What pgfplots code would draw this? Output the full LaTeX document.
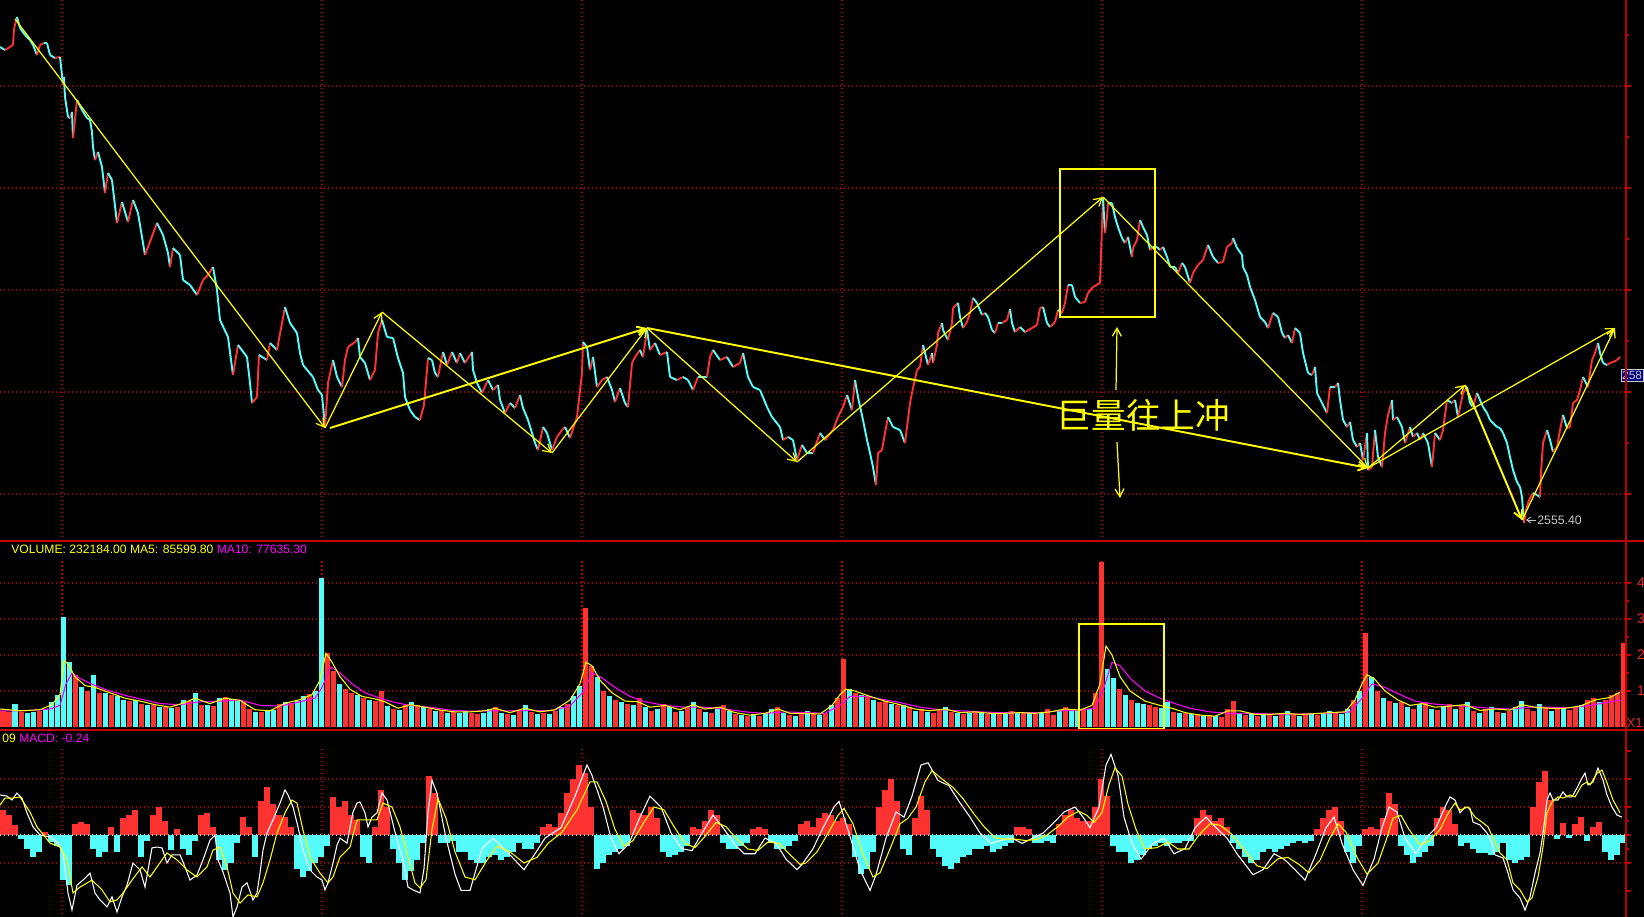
\documentclass[border=0pt]{standalone}
\usepackage{fontspec}
\setmainfont{Liberation Sans}
\newfontfamily\cjk{Noto Sans CJK SC}
\usepackage{pgfplots}
\pgfplotsset{compat=1.18}
\usepackage{pgfplotstable}
\usetikzlibrary{arrows.meta}

\definecolor{upred}{RGB}{255,50,50}
\definecolor{dncyan}{RGB}{84,252,252}
\definecolor{gridred}{RGB}{175,0,0}
\definecolor{axisred}{RGB}{190,0,0}
\definecolor{lblred}{RGB}{235,40,40}
\definecolor{ylw}{RGB}{255,255,0}
\definecolor{mag}{RGB}{255,0,255}
\definecolor{lgray}{RGB}{200,200,200}
\definecolor{boxblue}{RGB}{0,0,128}

\tikzset{gridline/.style={gridred, line width=0.03cm, dash pattern=on 0.025cm off 0.055cm},
  zz/.style={ylw, line width=0.7pt, -{Straight Barb[length=0.16cm,width=0.18cm]}},
  zzt/.style={zz, line width=1.1pt}}
\pgfplotsset{colormap={updown}{rgb255=(84,252,252) rgb255=(255,50,50)}}
\pgfplotsset{panel/.style={scale only axis, width=32.52cm, xmin=0, xmax=1626,
  enlargelimits=false, anchor=south west, axis line style={draw=none},
  xtick=\empty, ytick pos=right, yticklabel pos=right, tick align=outside,
  major tick length=0.1cm, minor tick length=0.05cm,
  tick style={axisred, line width=0.7pt}, yticklabels={}}}

% price: x = bar position, p = close, u = 1 when the next move is up
\pgfplotstableread{
x p u
0 2650.6 0
5 2650.0 1
10 2650.6 1
13 2651.0 1
14 2654.2 1
17 2656.6 0
20 2654.4 0
25 2653.0 0
30 2652.0 0
33 2651.0 0
37 2649.0 1
40 2651.0 1
44 2651.4 0
47 2651.4 0
50 2649.0 0
55 2648.4 1
60 2648.6 0
63 2643.0 1
64 2644.6 0
65 2640.6 0
68 2636.6 0
70 2636.4 1
72 2637.6 0
73 2632.4 1
77 2640.0 0
82 2638.0 0
87 2636.4 0
90 2636.0 0
92 2633.6 0
93 2630.6 0
95 2628.0 1
98 2629.6 0
102 2626.6 0
105 2621.4 1
108 2625.4 0
112 2624.0 0
117 2615.4 1
122 2619.6 0
128 2615.6 1
133 2620.0 0
138 2617.4 0
145 2609.0 1
148 2610.6 1
157 2615.4 0
163 2613.0 0
168 2609.4 0
170 2606.6 1
173 2610.4 0
180 2609.0 0
183 2604.0 0
190 2603.0 0
197 2601.0 1
203 2604.0 1
208 2605.0 1
213 2606.6 0
217 2602.0 0
220 2596.0 0
228 2592.6 0
233 2585.0 1
238 2591.0 0
247 2588.6 0
250 2583.4 0
252 2579.4 1
257 2580.6 1
259 2589.0 0
267 2588.0 1
270 2591.4 0
277 2590.0 1
285 2598.6 0
290 2595.4 0
297 2593.4 0
300 2589.4 0
303 2587.0 0
313 2584.6 0
318 2582.0 0
322 2581.0 0
325 2574.6 1
328 2583.4 1
333 2588.0 0
337 2584.6 0
342 2582.6 1
345 2588.0 1
348 2590.6 1
355 2591.6 1
358 2592.4 0
360 2588.6 0
365 2587.4 0
370 2584.0 1
375 2586.0 1
378 2593.4 1
382 2596.0 0
387 2592.6 0
393 2592.4 0
398 2588.4 0
403 2585.4 0
405 2580.6 0
410 2578.0 0
415 2576.6 0
420 2576.0 1
424 2579.0 1
428 2588.4 0
432 2588.0 0
435 2585.4 0
438 2584.6 1
443 2589.6 0
447 2587.0 1
452 2589.6 0
457 2587.4 1
460 2589.4 0
465 2587.4 1
472 2589.6 0
473 2586.0 0
477 2583.4 0
482 2581.4 1
488 2584.0 0
493 2582.0 1
498 2583.0 0
500 2580.0 0
505 2577.4 1
510 2579.4 0
515 2578.4 1
520 2581.0 0
523 2578.4 0
528 2576.0 0
532 2573.4 0
535 2571.4 0
538 2570.0 1
543 2574.6 0
547 2573.4 0
552 2570.0 1
557 2572.6 1
562 2574.0 1
565 2574.6 0
570 2572.4 1
577 2576.6 1
582 2585.4 1
583 2591.6 0
587 2590.6 0
590 2586.0 1
593 2588.6 0
597 2582.6 1
602 2584.0 1
607 2584.6 0
612 2582.0 0
615 2579.6 1
620 2582.4 0
625 2579.4 0
628 2578.6 1
632 2587.4 1
635 2588.6 1
640 2590.0 0
643 2588.6 1
647 2594.0 0
650 2590.0 1
655 2591.4 0
660 2589.0 1
667 2589.6 0
670 2584.6 0
677 2584.0 1
683 2584.6 0
688 2584.0 0
693 2582.0 1
698 2584.6 0
707 2584.6 1
710 2588.6 1
713 2590.0 0
720 2588.0 1
727 2588.6 0
733 2586.6 1
740 2587.4 1
743 2589.4 0
748 2584.6 0
753 2582.6 0
760 2582.0 0
767 2578.6 0
772 2576.6 0
780 2574.6 0
783 2572.0 1
788 2572.6 0
793 2572.0 0
797 2568.0 1
802 2571.0 0
807 2569.4 0
813 2569.4 1
820 2573.4 0
825 2572.0 1
833 2574.0 1
838 2576.6 1
843 2578.6 1
847 2581.0 0
852 2578.0 1
855 2584.0 0
858 2580.6 0
863 2576.0 0
867 2572.0 0
870 2569.4 0
873 2566.6 0
876 2563.0 1
878 2569.4 1
882 2570.0 1
885 2573.4 1
888 2576.6 0
893 2574.6 0
900 2574.0 0
905 2571.4 1
907 2574.6 1
910 2579.4 1
913 2582.4 1
917 2586.0 1
920 2586.6 1
923 2591.0 0
925 2589.4 0
928 2587.0 1
932 2589.4 0
933 2587.4 1
937 2591.0 1
938 2593.4 1
942 2595.4 0
943 2594.0 0
948 2592.0 1
952 2595.4 1
953 2598.4 1
958 2599.4 0
960 2596.6 0
963 2594.4 1
967 2595.6 1
970 2597.4 1
973 2600.4 0
977 2599.4 0
982 2597.0 1
985 2597.4 0
988 2596.6 0
992 2594.0 0
995 2593.4 1
998 2595.4 0
1002 2595.4 1
1007 2596.0 1
1010 2598.2 0
1012 2595.4 0
1015 2593.6 1
1020 2594.6 0
1025 2593.6 1
1032 2594.4 1
1037 2595.0 1
1040 2598.4 1
1043 2598.6 0
1047 2595.4 0
1050 2594.6 1
1055 2595.6 1
1058 2598.0 0
1062 2597.4 1
1065 2599.4 1
1068 2603.0 0
1072 2603.0 0
1075 2600.6 0
1080 2599.4 1
1085 2599.6 1
1088 2601.4 1
1093 2602.6 1
1100 2603.4 1
1103 2620.4 0
1105 2613.4 1
1107 2616.6 1
1108 2619.4 0
1112 2619.4 0
1115 2616.6 0
1118 2614.6 0
1122 2612.4 0
1125 2611.4 1
1128 2612.6 0
1132 2608.6 1
1133 2610.4 1
1137 2612.0 1
1140 2616.0 0
1143 2614.6 0
1147 2613.0 0
1150 2610.0 1
1153 2610.6 0
1157 2610.6 0
1160 2610.0 1
1163 2610.6 0
1167 2608.6 0
1170 2606.6 0
1175 2606.6 0
1178 2605.4 1
1182 2607.4 0
1185 2606.6 0
1190 2603.4 1
1193 2605.4 1
1198 2607.0 1
1203 2608.0 1
1208 2611.0 0
1213 2608.6 0
1218 2607.4 1
1223 2607.6 1
1227 2610.6 1
1232 2611.4 1
1233 2612.4 0
1237 2610.4 0
1242 2609.0 0
1243 2606.6 0
1247 2605.0 0
1250 2602.6 0
1255 2600.0 0
1260 2596.6 0
1265 2595.6 0
1268 2594.4 1
1273 2597.4 0
1278 2596.6 0
1282 2593.4 0
1285 2592.4 1
1288 2593.0 0
1292 2591.4 1
1295 2594.4 0
1300 2593.4 0
1303 2589.4 0
1308 2585.4 0
1312 2585.0 1
1315 2586.6 0
1317 2581.4 0
1322 2579.4 0
1327 2577.4 1
1330 2582.6 0
1335 2582.6 1
1338 2583.4 0
1340 2580.0 0
1343 2576.0 0
1347 2574.6 1
1350 2575.6 0
1353 2572.0 0
1357 2570.6 1
1360 2571.4 0
1363 2568.0 1
1367 2573.4 0
1368 2566.0 1
1372 2566.6 1
1375 2574.0 0
1378 2568.6 0
1382 2566.6 1
1385 2573.4 1
1388 2577.0 1
1392 2580.0 0
1393 2576.0 1
1397 2576.6 0
1402 2574.6 0
1405 2571.4 1
1410 2574.6 0
1413 2572.6 1
1417 2573.4 0
1420 2572.0 1
1423 2573.4 0
1428 2571.4 0
1432 2566.6 1
1435 2573.4 0
1440 2572.0 1
1443 2574.0 1
1447 2580.0 0
1452 2579.4 1
1455 2580.0 0
1458 2576.6 1
1463 2581.4 1
1467 2582.6 0
1470 2579.4 0
1473 2578.6 1
1477 2581.4 0
1483 2578.6 0
1487 2577.4 0
1490 2576.0 0
1497 2574.6 0
1500 2574.4 0
1503 2573.4 0
1507 2571.4 0
1510 2568.6 0
1513 2566.0 0
1517 2563.6 0
1520 2562.6 0
1522 2560.6 0
1524 2555.4 1
1526 2558.0 1
1528 2559.4 1
1530 2560.4 1
1533 2561.4 0
1537 2561.0 0
1540 2560.6 1
1541 2565.4 1
1543 2571.4 1
1547 2574.0 0
1550 2572.0 0
1553 2569.6 1
1557 2570.6 1
1560 2574.0 1
1563 2577.0 0
1567 2574.4 1
1570 2574.6 1
1573 2579.4 1
1577 2580.0 1
1580 2582.0 1
1583 2584.6 0
1588 2582.6 1
1590 2585.4 1
1592 2588.0 1
1595 2589.4 1
1598 2591.4 0
1600 2589.4 0
1603 2587.4 0
1607 2587.0 1
1610 2587.4 1
1613 2587.6 1
1617 2588.0 1
1620 2588.6 1
}\price

% volume in units of 100000, u = 1 for an up day
\pgfplotstableread{
x v u
3 0.45 1
9 0.42 1
15 0.65 0
21 0.42 1
27 0.40 0
33 0.42 0
39 0.45 1
45 0.50 0
51 0.70 0
57 0.90 0
63 3.05 0
69 1.80 0
75 1.45 1
81 1.10 0
87 1.00 1
93 1.45 0
99 0.95 1
105 0.95 0
111 0.90 1
117 0.85 0
123 0.75 0
129 0.72 1
135 0.75 0
141 0.65 1
147 0.60 0
153 0.62 1
159 0.55 0
165 0.55 1
171 0.52 0
177 0.55 1
183 0.75 0
189 0.72 1
195 0.95 0
201 0.60 1
207 0.62 0
213 0.58 1
219 0.80 0
225 0.83 1
231 0.78 0
237 0.72 0
243 0.70 1
249 0.50 1
255 0.42 0
261 0.42 1
267 0.45 0
273 0.48 0
279 0.65 1
285 0.70 0
291 0.68 1
297 0.72 0
303 0.85 0
309 0.92 1
315 1.00 0
321 4.15 0
327 2.05 1
333 1.55 1
339 1.20 0
345 1.05 1
351 0.95 1
357 0.90 0
363 0.80 1
369 0.75 0
375 0.72 1
381 1.00 1
387 0.58 0
393 0.50 1
399 0.47 0
405 0.60 1
411 0.70 0
417 0.62 1
423 0.55 0
429 0.50 1
435 0.45 0
441 0.48 1
447 0.40 0
453 0.42 1
459 0.38 0
465 0.45 0
471 0.40 1
477 0.35 1
483 0.38 0
489 0.50 0
495 0.55 1
501 0.40 0
507 0.35 1
513 0.32 0
519 0.45 1
525 0.60 0
531 0.42 1
537 0.35 0
543 0.40 1
549 0.35 0
555 0.45 1
561 0.55 0
567 0.65 1
573 0.85 0
579 1.15 0
585 3.30 1
591 1.70 1
597 1.40 0
603 1.00 1
609 0.85 0
615 0.75 1
621 0.70 0
627 0.65 1
633 0.60 0
639 0.80 1
645 0.55 0
651 0.45 1
657 0.50 0
663 0.65 1
669 0.55 0
675 0.42 1
681 0.45 0
687 0.55 1
693 0.70 0
699 0.50 1
705 0.42 0
711 0.40 1
717 0.50 0
723 0.62 1
729 0.45 0
735 0.35 1
741 0.32 0
747 0.30 1
753 0.35 0
759 0.30 1
765 0.38 0
771 0.50 0
777 0.55 1
783 0.40 0
789 0.32 1
795 0.30 0
801 0.38 1
807 0.45 0
813 0.35 1
819 0.32 0
825 0.40 1
831 0.60 0
837 0.80 1
843 1.90 1
849 1.05 0
855 0.95 1
861 0.90 0
867 0.85 1
873 0.75 0
879 0.70 1
885 0.72 1
891 0.65 0
897 0.60 1
903 0.62 0
909 0.55 1
915 0.45 0
921 0.50 1
927 0.42 0
933 0.38 1
939 0.50 1
945 0.55 0
951 0.42 1
957 0.38 0
963 0.35 1
969 0.40 0
975 0.45 1
981 0.38 0
987 0.35 1
993 0.38 0
999 0.40 1
1005 0.35 0
1011 0.45 1
1017 0.40 0
1023 0.38 1
1029 0.42 0
1035 0.35 1
1041 0.40 0
1047 0.50 1
1053 0.32 1
1059 0.45 0
1065 0.55 1
1071 0.45 0
1077 0.45 0
1083 0.47 1
1089 0.50 0
1095 0.95 1
1101 4.58 1
1107 1.60 0
1113 1.35 0
1119 1.05 1
1125 0.90 0
1131 0.75 1
1137 0.68 0
1143 0.65 0
1149 0.62 1
1155 0.55 1
1161 0.52 0
1167 0.70 0
1173 0.42 1
1179 0.40 0
1185 0.38 1
1191 0.35 0
1197 0.35 1
1203 0.30 0
1209 0.32 1
1215 0.30 0
1221 0.28 1
1227 0.50 1
1233 0.73 1
1239 0.35 0
1245 0.32 1
1251 0.35 0
1257 0.30 1
1263 0.40 0
1269 0.35 1
1275 0.30 0
1281 0.38 1
1287 0.45 0
1293 0.35 1
1299 0.30 0
1305 0.35 1
1311 0.40 0
1317 0.32 1
1323 0.35 0
1329 0.45 0
1335 0.38 1
1341 0.35 0
1347 0.50 0
1353 0.75 1
1359 1.00 0
1365 2.60 1
1371 1.40 0
1377 1.00 1
1383 0.80 0
1389 0.72 1
1395 0.68 0
1401 0.70 1
1407 0.55 0
1413 0.50 1
1419 0.65 0
1425 0.70 1
1431 0.50 0
1437 0.48 1
1443 0.55 0
1449 0.65 1
1455 0.50 0
1461 0.62 1
1467 0.70 0
1473 0.45 1
1479 0.40 0
1485 0.50 1
1491 0.55 0
1497 0.42 1
1503 0.38 0
1509 0.45 1
1515 0.55 0
1521 0.72 0
1527 0.50 1
1533 0.45 1
1539 0.65 0
1545 0.55 1
1551 0.45 0
1557 0.50 1
1563 0.55 0
1569 0.48 1
1575 0.55 1
1581 0.60 0
1587 0.75 1
1593 0.80 1
1599 0.70 0
1605 0.75 1
1611 0.90 1
1617 0.95 1
1623 2.33 1
}\vol

% MACD histogram
\pgfplotstableread{
x m
3 0.9
9 0.7
15 0.35
21 -0.15
27 -0.5
33 -0.8
39 -0.6
45 0.1
51 -0.25
57 -0.4
63 -1.6
69 -1.8
75 0.4
81 0.45
87 0.4
93 -0.5
99 -0.8
105 -0.6
111 0.3
117 -0.6
123 0.6
129 0.7
135 0.9
141 -0.8
147 -0.2
153 0.7
159 1.0
165 0.5
171 -0.55
177 0.2
183 -0.5
189 -0.7
195 -0.2
201 0.7
207 0.8
213 0.3
219 -0.9
225 -1.25
231 -1.0
237 -0.3
243 0.65
249 0.3
255 -0.8
261 1.2
267 1.7
273 1.1
279 0.7
285 0.65
291 0.3
297 -1.2
303 -1.5
309 -1.3
315 -1.0
321 -0.8
327 -0.4
333 1.35
339 1.0
345 1.2
351 0.7
357 0.55
363 -0.8
369 -1.0
375 0.3
381 1.6
387 1.0
393 -0.5
399 -1.0
405 -1.6
411 -1.3
417 -0.9
423 -0.3
429 2.1
435 1.5
441 -0.3
447 -0.3
453 -0.2
459 -0.6
465 -0.6
471 -0.9
477 -1.0
483 -1.0
489 -0.8
495 -0.7
501 -0.9
507 -0.8
513 -0.6
519 -0.3
525 -0.5
531 -0.5
537 -0.3
543 0.3
549 0.4
555 0.3
561 0.8
567 1.5
573 2.0
579 2.5
585 2.2
591 1.0
597 -1.2
603 -1.0
609 -0.7
615 -0.6
621 -0.5
627 -0.4
633 0.9
639 0.8
645 0.7
651 1.0
657 0.6
663 -0.6
669 -0.8
675 -0.7
681 -0.6
687 -0.4
693 0.3
699 0.2
705 0.5
711 0.9
717 0.7
723 -0.3
729 -0.5
735 -0.5
741 -0.4
747 -0.3
753 0.2
759 0.3
765 0.2
771 -0.3
777 -0.5
783 -0.5
789 -0.4
795 -0.2
801 0.4
807 0.5
813 0.3
819 0.6
825 0.8
831 0.7
837 0.5
843 0.6
849 0.4
855 -0.8
861 -1.4
867 -1.2
873 -0.6
879 1.0
885 1.6
891 2.0
897 1.2
903 -0.5
909 -0.7
915 0.6
921 1.4
927 0.9
933 -0.5
939 -0.8
945 -1.1
951 -1.2
957 -1.0
963 -0.8
969 -0.7
975 -0.5
981 -0.5
987 -0.4
993 -0.6
999 -0.5
1005 -0.4
1011 -0.3
1017 0.3
1023 0.3
1029 0.2
1035 -0.3
1041 -0.3
1047 -0.2
1053 -0.3
1059 0.4
1065 0.7
1071 0.9
1077 0.6
1083 0.5
1089 0.5
1095 1.0
1101 2.0
1107 1.4
1113 -0.4
1119 -0.6
1125 -0.6
1131 -1.0
1137 -0.9
1143 -0.7
1149 -0.5
1155 -0.4
1161 -0.3
1167 -0.4
1173 -0.3
1179 -0.3
1185 -0.2
1191 -0.2
1197 0.6
1203 0.9
1209 0.7
1215 0.5
1221 0.6
1227 0.3
1233 -0.3
1239 -0.5
1245 -0.8
1251 -1.0
1257 -0.9
1263 -0.6
1269 -0.5
1275 -0.6
1281 -0.5
1287 -0.4
1293 -0.3
1299 -0.2
1305 -0.3
1311 -0.2
1317 0.2
1323 0.6
1329 0.9
1335 1.0
1341 0.5
1347 -0.6
1353 -1.0
1359 -0.4
1365 0.2
1371 0.3
1377 0.2
1383 0.6
1389 1.5
1395 1.1
1401 -0.4
1407 -0.7
1413 -1.0
1419 -0.8
1425 -0.6
1431 -0.4
1437 0.6
1443 1.0
1449 0.9
1455 0.4
1461 -0.4
1467 -0.3
1473 -0.5
1479 -0.65
1485 -0.65
1491 -0.7
1497 -0.6
1503 -0.3
1509 -0.9
1515 -1.0
1521 -0.9
1527 -0.8
1533 1.0
1539 1.9
1545 2.3
1551 1.25
1557 -0.15
1563 0.43
1569 -0.1
1575 0.4
1581 0.65
1587 -0.2
1593 0.3
1599 0.45
1605 -0.6
1611 -0.9
1617 -0.7
1623 -0.3
}\macd

\begin{document}
\begin{tikzpicture}
\fill[black] (0,0) rectangle (32.88,-18.34);

% ---------------- price panel
\begin{axis}[panel, at={(0cm,-10.82cm)}, height=10.82cm, ymin=2551.8, ymax=2660,
  xtick={62,322,582,842,1102,1362}, xticklabels={}, xtick style={draw=none},
  xmajorgrids, ymajorgrids, major grid style={gridline},
  ytick={2561.2,2581.6,2602.0,2622.4,2642.8},
  minor ytick={2571.4,2591.8,2612.2,2632.6,2653.0}]
\addplot[mesh, shader=flat corner, colormap name=updown, point meta=explicit,
  point meta min=0, point meta max=1, line width=1.1pt]
  table[x=x, y=p, meta=u] {\price};
% trend lines
\addplot[zz] coordinates {(15,2656.2) (325,2574.4)};
\addplot[zz] coordinates {(325,2574.4) (382,2597.6)};
\addplot[zz] coordinates {(382,2597.6) (552,2569.4)};
\addplot[zz] coordinates {(552,2569.4) (647,2594.4)};
\addplot[zz] coordinates {(647,2594.4) (797,2567.6)};
\addplot[zz] coordinates {(797,2567.6) (1103,2620.6)};
\addplot[zz] coordinates {(1103,2620.6) (1368,2566.4)};
\addplot[zz] coordinates {(1368,2566.4) (1465,2583.0)};
\addplot[zzt] coordinates {(1465,2583.0) (1522,2556.0)};
\addplot[zz] coordinates {(1522,2556.0) (1615,2594.4)};
\addplot[zzt] coordinates {(330,2574.4) (647,2594.4)};
\addplot[zzt] coordinates {(647,2594.4) (1368,2566.4)};
\addplot[zz] coordinates {(1368,2566.4) (1615,2594.4)};
\draw[ylw, line width=0.8pt] (axis cs:1060,2626.2) rectangle (axis cs:1155,2596.6);
\addplot[zz] coordinates {(1116,2582.0) (1117,2594.6)};
\addplot[zz] coordinates {(1117,2571.6) (1120,2560.4)};
\node[text=ylw, font=\cjk\fontsize{19.7}{21}\selectfont, inner sep=0pt]
  at (axis cs:1143.5,2577.0) {巨量往上冲};
\draw[lgray, line width=0.5pt, -{Straight Barb[length=0.08cm,width=0.12cm]}]
  (axis cs:1536,2556.0) -- (axis cs:1526,2556.0);
\node[anchor=west, text=lgray, font=\fontsize{7}{8}\selectfont, inner sep=0pt]
  at (axis cs:1537,2556.0) {2555.40};
\end{axis}

% ---------------- volume panel
\begin{axis}[panel, at={(0cm,-14.6cm)}, height=3.78cm, ymin=-0.0833, ymax=5.1667,
  ytick={1,2,3,4}, yticklabels={1,2,3,4}, minor ytick={1.5,2.5,3.5},
  yticklabel style={text=lblred, font=\fontsize{8}{9}\selectfont}]
\pgfplotsinvokeforeach{62,322,582,842,1102,1362}{
  \draw[gridline] (axis cs:#1,4.6) -- (axis cs:#1,-0.09);}
\pgfplotsinvokeforeach{1,2,3,4}{
  \draw[gridline] (axis cs:0,#1) -- (axis cs:1626,#1);}
\addplot[ycomb, draw=dncyan, line width=0.1cm]
  table[x=x, y=v, restrict expr to domain={\thisrow{u}}{-0.5:0.5}] {\vol};
\addplot[ycomb, draw=upred, line width=0.1cm]
  table[x=x, y=v, restrict expr to domain={\thisrow{u}}{0.5:1.5}] {\vol};
% MA10
\addplot[mag, line width=0.6pt] coordinates {
(0,0.45) (25,0.45) (50,0.5) (60,0.6) (66,1.2) (72,1.5) (80,1.35) (95,1.15) (110,1.0)
(125,0.88) (140,0.78) (160,0.65) (180,0.62) (200,0.7) (220,0.72) (240,0.75) (260,0.6)
(280,0.58) (300,0.7) (315,0.8) (322,1.1) (331,1.67) (340,1.5) (352,1.2) (365,0.95)
(380,0.8) (395,0.68) (410,0.6) (430,0.55) (450,0.47) (470,0.44) (490,0.45) (510,0.45)
(530,0.46) (550,0.45) (570,0.58) (584,1.0) (592,1.5) (600,1.4) (615,1.1) (630,0.85)
(645,0.7) (665,0.6) (685,0.55) (705,0.55) (725,0.5) (745,0.42) (765,0.38) (785,0.42)
(805,0.4) (825,0.38) (840,0.6) (850,0.85) (865,0.85) (880,0.78) (900,0.68) (920,0.55)
(940,0.48) (960,0.45) (980,0.42) (1000,0.4) (1020,0.4) (1040,0.4) (1060,0.45) (1080,0.47)
(1095,0.52) (1104,1.1) (1112,1.8) (1120,1.7) (1132,1.3) (1145,1.0) (1160,0.8) (1175,0.65)
(1190,0.52) (1210,0.42) (1230,0.38) (1250,0.38) (1275,0.36) (1300,0.36) (1325,0.38)
(1350,0.42) (1362,0.8) (1372,1.2) (1385,1.1) (1400,0.9) (1415,0.72) (1430,0.65)
(1450,0.6) (1470,0.57) (1490,0.52) (1510,0.5) (1530,0.55) (1550,0.55) (1570,0.53)
(1590,0.6) (1610,0.7) (1622,0.75)};
% MA5
\addplot[ylw, line width=0.6pt] coordinates {
(0,0.50) (20,0.45) (40,0.48) (52,0.62) (60,0.9) (64,1.85) (68,1.75) (75,1.4) (85,1.15)
(95,1.1) (110,0.95) (125,0.8) (140,0.72) (155,0.62) (170,0.55) (185,0.68) (195,0.8)
(210,0.65) (225,0.8) (240,0.74) (255,0.48) (270,0.45) (285,0.66) (300,0.76) (312,0.9)
(320,1.3) (326,2.05) (332,1.8) (340,1.4) (350,1.05) (362,0.85) (375,0.78) (385,0.7)
(398,0.52) (410,0.62) (425,0.55) (440,0.47) (455,0.42) (470,0.42) (485,0.45) (495,0.52)
(510,0.4) (525,0.52) (540,0.42) (555,0.48) (570,0.75) (580,1.2) (586,1.8) (592,1.7)
(600,1.3) (612,0.95) (625,0.72) (638,0.7) (650,0.55) (665,0.6) (680,0.48) (693,0.62)
(705,0.5) (720,0.55) (735,0.4) (750,0.33) (765,0.38) (778,0.5) (790,0.38) (805,0.38)
(820,0.36) (832,0.6) (840,0.9) (846,1.05) (855,1.0) (870,0.85) (885,0.72) (900,0.62)
(915,0.5) (930,0.45) (945,0.5) (960,0.4) (975,0.42) (990,0.38) (1005,0.38) (1020,0.4)
(1035,0.38) (1050,0.42) (1065,0.5) (1080,0.47) (1092,0.6) (1100,1.2) (1106,2.25)
(1112,2.0) (1120,1.4) (1130,1.0) (1145,0.72) (1160,0.6) (1172,0.52) (1185,0.4) (1200,0.33)
(1215,0.3) (1228,0.45) (1240,0.45) (1255,0.35) (1270,0.35) (1285,0.38) (1300,0.35)
(1315,0.37) (1330,0.4) (1345,0.42) (1355,0.75) (1362,1.2) (1367,1.45) (1374,1.35)
(1385,1.0) (1398,0.75) (1410,0.6) (1422,0.65) (1435,0.55) (1450,0.58) (1465,0.62)
(1480,0.46) (1495,0.5) (1510,0.47) (1522,0.62) (1535,0.55) (1550,0.52) (1565,0.52)
(1580,0.58) (1595,0.75) (1610,0.82) (1620,0.97)};
\draw[ylw, line width=0.8pt] (axis cs:1079,-0.06) rectangle (axis cs:1164,2.86);
\end{axis}

% ---------------- MACD panel
\begin{axis}[panel, at={(0cm,-18.34cm)}, height=3.74cm, ymin=-2.9286, ymax=3.75,
  ytick={-2,-1,0,1,2,3}, minor ytick={-0.5,0.5}]
\pgfplotsinvokeforeach{62,322,582,842,1102,1362}{
  \draw[gridline] (axis cs:#1,3.07) -- (axis cs:#1,-2.95);}
\pgfplotsinvokeforeach{-1,1,2}{
  \draw[gridline] (axis cs:0,#1) -- (axis cs:1626,#1);}
\addplot[ycomb, draw=upred, line width=0.118cm]
  table[x=x, y=m, restrict expr to domain={\thisrow{m}}{0:5}] {\macd};
\addplot[ycomb, draw=dncyan, line width=0.118cm]
  table[x=x, y=m, restrict expr to domain={\thisrow{m}}{-5:0}] {\macd};
\draw[lgray, line width=0.03cm, dash pattern=on 0.025cm off 0.055cm]
  (axis cs:0,0) -- (axis cs:1626,0);
% DIF
\addplot[white, line width=0.6pt] coordinates {
(0,1.43) (7,1.39) (12,1.25) (17,1.5) (22,1.32) (27,0.79) (33,0.29) (40,0) (50,-0.07)
(58,-0.29) (63,-0.64) (68,-2.07) (72,-2.68) (77,-1.79) (83,-1.61) (90,-1.36) (95,-2.07)
(100,-2.32) (107,-2.57) (112,-2.21) (117,-2.75) (122,-2.21) (127,-1.79) (133,-1.0)
(140,-1.25) (145,-1.86) (152,-0.46) (157,-0.43) (162,-0.46) (167,-1.0) (172,-0.71)
(180,-0.71) (183,-0.96) (190,-1.61) (197,-1.43) (203,-0.89) (210,-0.18) (215,0)
(218,-0.89) (223,-1.32) (230,-2.07) (233,-2.93) (237,-2.57) (242,-1.86) (247,-1.71)
(253,-2.32) (257,-2.07) (260,-1.36) (263,-0.54) (267,0.07) (273,0.54) (280,1.14)
(285,1.61) (288,1.43) (293,1.0) (298,0.29) (303,-0.54) (310,-1.25) (317,-1.5) (322,-1.61)
(325,-1.96) (328,-1.71) (333,-1.0) (337,-0.36) (340,-0.11) (347,-0.29) (353,0.82)
(357,1.14) (360,1.18) (365,0.79) (368,0.29) (372,0.64) (377,0.79) (382,1.5) (387,1.25)
(392,0.54) (397,-0.18) (403,-0.89) (408,-1.86) (413,-1.96) (420,-2.07) (424,-1.2)
(428,0.8) (432,1.95) (437,1.5) (446,-0.11) (455,-1.4) (461,-1.98) (470,-1.98) (482,-0.49)
(493,-0.11) (509,-0.67) (524,-1.24) (535,-0.67) (545,-0.11) (561,0.26) (575,1.39)
(587,2.5) (592,2.13) (603,1.0) (611,-0.11) (619,-0.67) (629,-0.3) (640,0.64) (650,1.39)
(661,1.0) (671,0.07) (682,-0.49) (692,-0.56) (702,0.07) (713,0.71) (723,0.26) (734,-0.3)
(744,-0.67) (755,-0.67) (765,-0.11) (776,-0.3) (786,-0.86) (797,-1.24) (802,-1.05)
(813,-0.49) (823,0.26) (834,1.0) (839,1.2) (849,0.07) (860,-1.24) (870,-1.98) (876,-1.42)
(886,-0.11) (896,0.82) (904,0.64) (912,1.39) (921,2.5) (928,2.58) (938,1.95) (949,1.76)
(959,1.2) (970,0.64) (980,0.07) (991,-0.3) (1001,-0.19) (1012,-0.11) (1022,-0.3)
(1033,-0.11) (1043,0.07) (1054,0.45) (1064,0.82) (1075,1.0) (1083,0.64) (1090,0.26)
(1099,1.0) (1106,2.5) (1111,2.88) (1118,2.13) (1124,0.64) (1132,-0.3) (1141,-0.86)
(1153,-0.3) (1164,-0.11) (1174,-0.67) (1185,-0.49) (1195,0.26) (1206,0.64) (1216,0.26)
(1227,-0.11) (1237,-0.67) (1253,-1.42) (1263,-1.24) (1274,-0.67) (1284,-0.86)
(1295,-1.24) (1305,-1.61) (1316,-0.67) (1326,0.26) (1334,0.64) (1342,-0.3) (1353,-1.24)
(1363,-1.8) (1374,-0.86) (1382,0.26) (1389,1.0) (1397,0.82) (1405,-0.11) (1416,-0.67)
(1426,-0.11) (1436,0.26) (1445,1.0) (1450,1.36) (1455,1.25) (1460,0.79) (1465,1.0)
(1470,0.96) (1473,0.46) (1480,0.36) (1487,0.07) (1492,-0.29) (1495,-0.71) (1503,-0.82)
(1508,-1.36) (1513,-1.96) (1520,-2.25) (1525,-2.68) (1530,-2.21) (1535,-1.36)
(1540,-0.64) (1543,0.07) (1547,1.25) (1550,1.5) (1553,1.25) (1558,1.25) (1563,1.54)
(1567,1.36) (1572,1.36) (1577,1.68) (1582,2.04) (1585,2.21) (1588,1.79) (1593,1.89)
(1598,2.39) (1603,1.96) (1607,1.43) (1612,1.0) (1617,0.71) (1622,0.64)};
% DEA
\addplot[ylw, line width=0.6pt] coordinates {
(0,1.07) (5,1.32) (13,1.32) (20,1.36) (30,0.82) (37,0.29) (50,-0.29) (60,-0.43)
(67,-0.89) (73,-2.07) (80,-1.86) (92,-1.61) (102,-1.96) (110,-2.39) (117,-2.32)
(123,-2.07) (132,-1.61) (142,-1.14) (150,-1.5) (157,-1.14) (167,-0.64) (177,-0.89)
(187,-1.25) (197,-1.5) (207,-1.14) (213,-0.54) (220,-0.43) (227,-1.14) (233,-2.07)
(240,-2.43) (248,-2.14) (257,-2.21) (263,-1.71) (270,-0.89) (277,0.07) (285,0.79)
(292,1.25) (297,1.14) (303,0.18) (310,-0.79) (320,-1.36) (328,-1.71) (333,-1.5)
(340,-0.79) (350,-0.43) (357,0.54) (367,0.54) (377,0.54) (383,1.14) (392,1.0) (400,0.29)
(408,-0.79) (415,-1.71) (420,-1.89) (426,-1.6) (432,0.2) (438,1.3) (446,0.6) (455,-0.6)
(465,-1.5) (475,-1.6) (487,-0.9) (497,-0.4) (510,-0.6) (524,-1.0) (537,-0.8) (548,-0.3)
(562,0.1) (577,0.9) (590,1.9) (597,1.9) (606,1.2) (615,0.2) (624,-0.4) (633,-0.2)
(643,0.4) (654,1.0) (664,0.9) (674,0.3) (685,-0.3) (695,-0.45) (705,-0.05) (716,0.45)
(726,0.3) (737,-0.15) (748,-0.5) (758,-0.55) (768,-0.25) (779,-0.3) (790,-0.7)
(800,-1.05) (806,-1.0) (817,-0.6) (827,0.0) (838,0.7) (844,0.95) (853,0.4) (863,-0.7)
(873,-1.5) (880,-1.35) (890,-0.5) (900,0.4) (908,0.6) (916,1.0) (925,1.9) (932,2.3)
(942,2.0) (953,1.7) (963,1.3) (974,0.75) (984,0.3) (995,-0.1) (1005,-0.15) (1016,-0.15)
(1026,-0.2) (1037,-0.15) (1047,0.0) (1058,0.3) (1068,0.65) (1079,0.85) (1087,0.7)
(1094,0.45) (1102,0.8) (1109,1.8) (1115,2.4) (1122,2.1) (1128,1.1) (1136,0.2)
(1145,-0.5) (1157,-0.45) (1168,-0.25) (1178,-0.5) (1189,-0.5) (1199,0.0) (1210,0.4)
(1220,0.35) (1231,0.05) (1241,-0.4) (1257,-1.1) (1267,-1.2) (1278,-0.85) (1288,-0.8)
(1299,-1.05) (1309,-1.35) (1320,-0.9) (1330,-0.1) (1338,0.4) (1346,0.1) (1357,-0.8)
(1367,-1.4) (1378,-1.0) (1386,-0.2) (1393,0.6) (1401,0.7) (1409,0.2) (1420,-0.35)
(1430,-0.2) (1440,0.2) (1447,0.7) (1450,0.89) (1455,1.14) (1460,0.89) (1468,1.0)
(1475,0.64) (1482,0.46) (1488,0.29) (1493,-0.11) (1500,-0.64) (1507,-0.89) (1513,-1.71)
(1520,-1.96) (1527,-2.39) (1532,-2.25) (1538,-1.5) (1543,-0.43) (1547,0.79) (1552,1.18)
(1558,1.36) (1563,1.32) (1570,1.43) (1575,1.36) (1582,1.79) (1587,1.89) (1590,1.79)
(1597,2.21) (1602,2.32) (1607,1.86) (1613,1.25) (1620,0.79)};
\end{axis}

% frame lines and panel labels
\draw[axisred, line width=0.8pt] (0,-10.82) -- (32.88,-10.82);
\draw[axisred, line width=0.8pt] (0,-14.6) -- (32.88,-14.6);
\node[anchor=west, fill=black, inner sep=0.6pt, font=\fontsize{6.9}{8}\selectfont]
  at (0.2,-10.98) {\textcolor{ylw}{VOLUME: 232184.00 MA5: 85599.80} \textcolor{mag}{MA10: 77635.30}};
\node[anchor=west, fill=black, inner sep=0.6pt, font=\fontsize{6.9}{8}\selectfont]
  at (0.02,-14.76) {\textcolor{ylw}{09} \textcolor{mag}{MACD: -0.24}};
\node[anchor=east, fill=boxblue, draw=lgray, line width=0.4pt, inner xsep=0.6pt,
  inner ysep=1pt, text=lgray, font=\fontsize{6.8}{8}\selectfont] at (32.87,-7.51) {258};
\node[anchor=east, text=lblred, inner sep=0pt, font=\fontsize{7.5}{9}\selectfont]
  at (32.86,-14.46) {X1};
\draw[axisred, line width=0.8pt] (32.52,0) -- (32.52,-18.34);
\pgfresetboundingbox
\path[use as bounding box] (0,0) rectangle (32.88,-18.34);
\end{tikzpicture}
\end{document}
